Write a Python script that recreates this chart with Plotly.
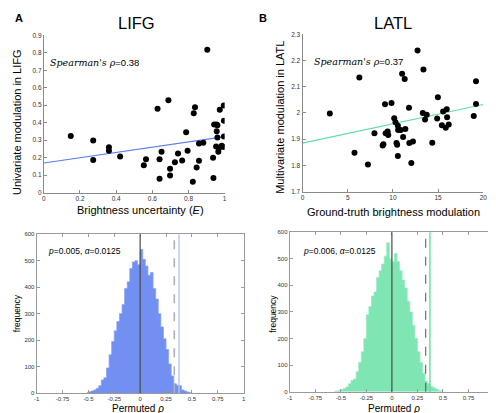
import plotly.graph_objects as go

W, H = 496, 413

# ---------------- data ----------------
lifg_x = [0.149, 0.273, 0.273, 0.36, 0.36, 0.422, 0.553, 0.565, 0.629, 0.64, 0.64, 0.651,
          0.689, 0.698, 0.698, 0.725, 0.742, 0.765, 0.787, 0.795, 0.824, 0.829, 0.836,
          0.845, 0.858, 0.858, 0.882, 0.904, 0.936, 0.938, 0.942, 0.955, 0.956, 0.96,
          0.96, 0.953, 0.965, 0.973, 0.969, 0.984, 0.995, 0.996, 0.996, 0.996]
lifg_y = [0.324, 0.298, 0.186, 0.259, 0.24, 0.206, 0.156, 0.191, 0.48, 0.191, 0.079, 0.234,
          0.529, 0.137, 0.098, 0.173, 0.223, 0.184, 0.345, 0.24, 0.062, 0.454, 0.489,
          0.144, 0.182, 0.281, 0.285, 0.818, 0.2, 0.084, 0.39, 0.39, 0.351, 0.386,
          0.315, 0.264, 0.234, 0.474, 0.255, 0.268, 0.499, 0.411, 0.321, 0.261]
lifg_fit_x = [0, 1]
lifg_fit_y = [0.169, 0.320]

latl_x = [3.02, 5.75, 6.29, 7.24, 7.96, 8.87, 8.95, 9.13, 9.2, 9.42, 9.49, 9.85, 10.15,
          10.29, 10.4, 10.47, 10.55, 10.55, 10.58, 10.87, 11.02, 11.13, 11.31, 11.38,
          11.78, 11.82, 12.04, 12.22, 12.73, 13.31, 13.38, 13.56, 13.75, 14.36, 14.9,
          14.98, 15.42, 15.56, 15.96, 16.0, 15.85, 16.18, 18.95, 19.2, 19.2]
latl_y = [1.998, 1.848, 2.135, 1.803, 1.923, 1.876, 1.881, 2.033, 1.923, 1.929, 1.916,
          2.038, 1.98, 1.965, 1.885, 1.879, 1.836, 1.951, 1.935, 1.935, 2.15, 1.908,
          2.13, 1.939, 2.02, 1.885, 1.809, 1.891, 2.238, 2.0, 2.166, 1.975, 1.993,
          1.886, 1.979, 2.06, 1.953, 2.006, 2.014, 1.984, 1.944, 1.956, 1.988, 2.121, 2.034]
latl_fit_x = [0, 20]
latl_fit_y = [1.885, 2.032]

# histogram bin centres (bin width 0.025) and counts
hist_c_x = [-0.5125, -0.4875, -0.4625, -0.4375, -0.4125, -0.3875, -0.3625, -0.3375,
            -0.3125, -0.2875, -0.2625, -0.2375, -0.2125, -0.1875, -0.1625, -0.1375,
            -0.1125, -0.0875, -0.0625, -0.0375, -0.0125, 0.0125, 0.0375, 0.0625, 0.0875,
            0.1125, 0.1375, 0.1625, 0.1875, 0.2125, 0.2375, 0.2625, 0.2875, 0.3125,
            0.3375, 0.3625, 0.3875, 0.4125, 0.4375, 0.4625, 0.4875]
hist_c_y = [3, 5, 8, 12, 18, 28, 50, 58, 95, 145, 195, 235, 270, 300, 335, 395, 420, 470,
            495, 500, 485, 542, 505, 480, 445, 455, 395, 355, 300, 250, 205, 165, 110, 65,
            35, 30, 28, 12, 8, 4, 2]
hist_d_x = [-0.5625, -0.5375, -0.5125, -0.4875, -0.4625, -0.4375, -0.4125, -0.3875,
            -0.3625, -0.3375, -0.3125, -0.2875, -0.2625, -0.2375, -0.2125, -0.1875,
            -0.1625, -0.1375, -0.1125, -0.0875, -0.0625, -0.0375, -0.0125, 0.0125, 0.0375,
            0.0625, 0.0875, 0.1125, 0.1375, 0.1625, 0.1875, 0.2125, 0.2375, 0.2625,
            0.2875, 0.3125, 0.3375, 0.3625, 0.3875, 0.4125, 0.4375, 0.4625, 0.4875]
hist_d_y = [2, 3, 5, 8, 12, 18, 30, 42, 48, 75, 110, 150, 200, 290, 320, 360, 375, 430,
            455, 480, 510, 560, 500, 490, 520, 490, 455, 420, 390, 340, 300, 250, 200,
            150, 110, 70, 40, 30, 20, 15, 10, 6, 3]

c_zero, c_thresh, c_obs = 0.0, 0.33, 0.375
d_zero, d_thresh, d_obs = 0.0, 0.331, 0.372

x_ticks_a = [0, 0.2, 0.4, 0.6, 0.8, 1]
x_ticklab_a = ["0", "0.2", "0.4", "0.6", "0.8", "1"]
y_ticks_a = [0, 0.1, 0.2, 0.3, 0.4, 0.5, 0.6, 0.7, 0.8, 0.9]
y_ticklab_a = ["0", "0.1", "0.2", "0.3", "0.4", "0.5", "0.6", "0.7", "0.8", "0.9"]
x_ticks_b = [0, 5, 10, 15, 20]
y_ticks_b = [1.7, 1.8, 1.9, 2.0, 2.1, 2.2, 2.3]
y_ticklab_b = ["1.7", "1.8", "1.9", "2", "2.1", "2.2", "2.3"]
x_ticks_h = [-1, -0.75, -0.5, -0.25, 0, 0.25, 0.5, 0.75, 1]
x_ticklab_h = ["-1", "-0.75", "-0.5", "-0.25", "0", "0.25", "0.5", "0.75", "1"]
y_ticks_h = [0, 100, 200, 300, 400, 500, 600]

# ---------------- style ----------------
BLUE_LINE = "#5b7ff0"
BLUE_FILL = "#7190f2"
BLUE_EDGE = "#8aa3f4"
BLUE_OBS = "#b3c3f7"
GREEN_LINE = "#62dda0"
GREEN_FILL = "#7fe5b3"
GREEN_EDGE = "#97ebc1"
GREEN_OBS = "#5fe0a0"
FONT = "Liberation Sans, Arial, sans-serif"
AX = "#8a8a8a"

def px_x(p):
    return p / W

def px_y(p):
    return 1 - p / H

fig = go.Figure()

fig.add_trace(go.Scatter(x=lifg_fit_x, y=lifg_fit_y, mode="lines",
                         line=dict(color=BLUE_LINE, width=1.1), xaxis="x", yaxis="y"))
fig.add_trace(go.Scatter(x=lifg_x, y=lifg_y, mode="markers",
                         marker=dict(color="black", size=6), xaxis="x", yaxis="y"))
fig.add_trace(go.Scatter(x=latl_fit_x, y=latl_fit_y, mode="lines",
                         line=dict(color=GREEN_LINE, width=1.1), xaxis="x2", yaxis="y2"))
fig.add_trace(go.Scatter(x=latl_x, y=latl_y, mode="markers",
                         marker=dict(color="black", size=6), xaxis="x2", yaxis="y2"))
# histograms as filled step outlines (steps change half-way between bin centres)
fig.add_trace(go.Scatter(x=hist_c_x, y=hist_c_y, mode="lines", fill="tozeroy",
                         fillcolor=BLUE_FILL, line=dict(color=BLUE_EDGE, width=0.8, shape="hvh"),
                         xaxis="x3", yaxis="y3"))
fig.add_trace(go.Scatter(x=hist_d_x, y=hist_d_y, mode="lines", fill="tozeroy",
                         fillcolor=GREEN_FILL, line=dict(color=GREEN_EDGE, width=0.8, shape="hvh"),
                         xaxis="x4", yaxis="y4"))

def vline(xv, ax, color, width, dash="solid"):
    fig.add_shape(type="line", xref=ax, yref=ax.replace("x", "y") + " domain",
                  x0=xv, x1=xv, y0=0, y1=1, line=dict(color=color, width=width, dash=dash))

vline(c_zero, "x3", "#4a4a4a", 1.2)
vline(c_thresh, "x3", "#b0b0b0", 1.6, "dash")
vline(c_obs, "x3", BLUE_OBS, 1.4)
vline(d_zero, "x4", "#4a4a4a", 1.2)
vline(d_thresh, "x4", "#555555", 1.0, "dash")
vline(d_obs, "x4", GREEN_OBS, 1.4)

tickfont_s = dict(family=FONT, size=6.5, color="#333")
tickfont_h = dict(family=FONT, size=6, color="#333")

def sc_axis(dom, rng, tv, tt, anchor):
    return dict(domain=dom, range=rng, tickvals=tv, ticktext=tt, anchor=anchor,
                showgrid=False, zeroline=False, showline=True, linecolor=AX, linewidth=1,
                ticks="inside", ticklen=3, tickcolor=AX, tickfont=tickfont_s)

def h_axis(dom, rng, tv, tt, anchor):
    return dict(domain=dom, range=rng, tickvals=tv, ticktext=tt, anchor=anchor,
                showgrid=False, zeroline=False, showline=True, linecolor="#9a9a9a",
                linewidth=1, mirror="ticks", ticks="inside", ticklen=3, tickcolor="#9a9a9a",
                tickfont=tickfont_h)

fig.update_layout(
    width=W, height=H, margin=dict(l=0, r=0, t=0, b=0),
    paper_bgcolor="white", plot_bgcolor="white", showlegend=False,
    font=dict(family=FONT, color="black"),
    xaxis=sc_axis([px_x(33.3), px_x(216.7)], [0, 1], x_ticks_a, x_ticklab_a, "y"),
    yaxis=sc_axis([px_y(183.7), px_y(23.7)], [0, 0.9], y_ticks_a, y_ticklab_a, "x"),
    xaxis2=sc_axis([px_x(295.7), px_x(479)], [0, 20], x_ticks_b,
                   [str(v) for v in x_ticks_b], "y2"),
    yaxis2=sc_axis([px_y(182.7), px_y(22.7)], [1.7, 2.3], y_ticks_b, y_ticklab_b, "x2"),
    xaxis3=h_axis([px_x(26), px_x(236)], [-1, 1], x_ticks_h, x_ticklab_h, "y3"),
    yaxis3=h_axis([px_y(387.7), px_y(226)], [0, 600], y_ticks_h,
                  [str(v) for v in y_ticks_h], "x3"),
    xaxis4=h_axis([px_x(282.7), px_x(490)], [-1, 1], x_ticks_h, x_ticklab_h, "y4"),
    yaxis4=h_axis([px_y(386.3), px_y(224)], [0, 600], y_ticks_h,
                  [str(v) for v in y_ticks_h], "x4"),
)

def ann(text, x, y, size, angle=0, xanchor="center", bold=False):
    fig.add_annotation(text=("<b>%s</b>" % text) if bold else text, xref="paper",
                       yref="paper", x=px_x(x), y=px_y(y), xanchor=xanchor, yanchor="middle",
                       showarrow=False, textangle=angle,
                       font=dict(family=FONT, size=size, color="black"))

ann("A", 2, 6, 11, xanchor="left", bold=True)
ann("B", 250, 6, 11, xanchor="left", bold=True)
ann("LIFG", 127, 11, 16.5)
ann("LATL", 387, 11, 16.5)
ann("Univariate modulation in LIFG", 6, 112, 11, angle=-90)
ann("Multivariate modulation in LATL", 273, 107.5, 11, angle=-90)
ann("Brightness uncertainty (<i>E</i>)", 131.5, 201, 11)
ann("Ground-truth brightness modulation", 387.5, 203, 11)
ann("frequency", 5.5, 306, 8.5, angle=-90)
ann("frequency", 265, 306.7, 8.5, angle=-90)
ann("Permuted <i>ρ</i>", 129, 403, 10)
ann("Permuted <i>ρ</i>", 388, 403, 10)
ann("<span style='font-family:DejaVu Serif'><i>Spearman's ρ</i></span>=0.38", 38, 51, 9.5,
    xanchor="left")
ann("<span style='font-family:DejaVu Serif'><i>Spearman's ρ</i></span>=0.37", 305, 50, 9.5,
    xanchor="left")
ann("<i>p</i>=0.005, <i>α</i>=0.0125", 36, 243, 8.5, xanchor="left")
ann("<i>p</i>=0.006, <i>α</i>=0.0125", 294, 243, 8.5, xanchor="left")

fig.write_html("out.html")
